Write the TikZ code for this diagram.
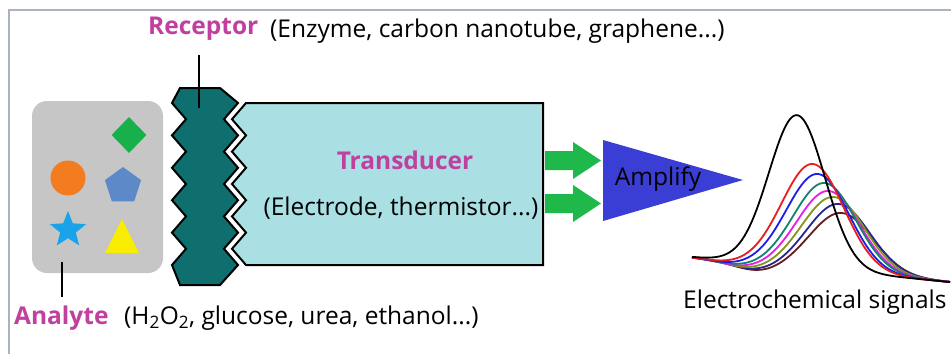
\documentclass[tikz,border=0pt]{standalone}
\usepackage{fontspec}
\setmainfont{Open Sans}
\usetikzlibrary{shapes.geometric}
\definecolor{mag}{RGB}{192,64,160}
\definecolor{framegray}{RGB}{170,180,190}
\definecolor{boxgray}{RGB}{198,198,198}
\definecolor{dgreen}{RGB}{23,176,74}
\definecolor{orng}{RGB}{244,124,32}
\definecolor{pent}{RGB}{92,138,200}
\definecolor{starb}{RGB}{26,163,232}
\definecolor{yel}{RGB}{248,236,0}
\definecolor{teal2}{RGB}{15,110,110}
\definecolor{cyanfill}{RGB}{170,224,228}
\definecolor{arrgreen}{RGB}{30,185,74}
\definecolor{ampblue}{RGB}{58,62,212}
\definecolor{cred}{RGB}{230,30,30}
\definecolor{cblue}{RGB}{30,30,230}
\definecolor{cteal}{RGB}{20,130,110}
\definecolor{cmag}{RGB}{230,30,230}
\definecolor{colive}{RGB}{130,150,30}
\definecolor{cnavy}{RGB}{40,40,140}
\definecolor{cmaroon}{RGB}{100,30,30}
\begin{document}
\begin{tikzpicture}[x=1pt,y=-1pt,
  lbl/.style={font=\fontsize{24.5}{28}\selectfont\bfseries, text=mag, inner sep=0},
  txt/.style={font=\fontsize{24.5}{28}\selectfont, text=black, inner sep=0},
  conn/.style={line width=2.2pt, black},
  outl/.style={line width=2pt, draw=black, line join=miter},
  curve/.style={line width=1.8pt},
  declare function={bs(\t)=257+25*(\t-692)/258; g(\t,\m,\s)=exp(-0.5*((\t-\m)/\s)*((\t-\m)/\s));}
]
\useasboundingbox (0,0) rectangle (951,354);
\fill[white] (0,0) rectangle (951,354);
\draw[framegray, line width=2pt] (9,354) -- (9,10) -- (951,10);

% analyte box
\fill[boxgray, rounded corners=15pt] (32,101) rectangle (163,273);
\coordinate (anabot) at (62,262);
\node[diamond, fill=dgreen, minimum width=35pt, minimum height=36pt, inner sep=0] (dia) at (129,135) {};
\node[circle, fill=orng, minimum size=35pt, inner sep=0] (circ) at (68,178) {};
\node[regular polygon, regular polygon sides=5, fill=pent, minimum size=38pt, inner sep=0] (pen) at (123,186) {};
\node[star, star points=5, star point ratio=2.3, fill=starb, minimum size=38pt, inner sep=0] (st) at (68,230) {};
\fill[yel] (122,219) -- (139,253) -- (105,253) -- cycle;

% receptor
\path[fill=teal2, outl] (180,88) -- (220,88)
  -- (238,103) -- (224,119.2) -- (238,135.4) -- (224,151.6) -- (238,167.8) -- (224,184)
  -- (238,200.2) -- (224,216.4) -- (238,232.6) -- (224,248.8) -- (238,265)
  -- (220,285) -- (180,285)
  -- (172,265) -- (186,248.8) -- (172,232.6) -- (186,216.4) -- (172,200.2) -- (186,184)
  -- (172,167.8) -- (186,151.6) -- (172,135.4) -- (186,119.2) -- (172,103) -- cycle;
\coordinate (rectop) at (199,108);

% transducer
\path[fill=cyanfill, outl] (246,103) -- (543,103) -- (543,265) -- (246,265)
  -- (232,248.8) -- (246,232.6) -- (232,216.4) -- (246,200.2) -- (232,184)
  -- (246,167.8) -- (232,151.6) -- (246,135.4) -- (232,119.2) -- cycle;
\node[lbl] (trans) at (405,160) {Transducer};
\node[txt] (transtxt) at (401,208) {(Electrode, thermistor...)};

% green arrows
\fill[arrgreen] (545,151) -- (573,151) -- (573,142) -- (601,160.5) -- (573,179) -- (573,170) -- (545,170) -- cycle;
\fill[arrgreen] (545,194) -- (573,194) -- (573,185) -- (601,203.5) -- (573,222) -- (573,213) -- (545,213) -- cycle;

% amplifier
\fill[ampblue] (603,140) -- (743,180) -- (603,221) -- cycle;
\node[txt] (amp) at (658,179) {Amplify};

% labels
\node[lbl, anchor=west] (rec) at (148,29) {Receptor};
\node[txt, anchor=west] (rectxt) at (270,31) {(Enzyme, carbon nanotube, graphene...)};
\coordinate (recline) at (199,55);
\draw[conn] (recline) -- (rectop);
\node[lbl, anchor=west] (ana) at (14,318) {Analyte};
\node[txt, anchor=west] (anatxt) at (124,318) {(H\textsubscript{2}O\textsubscript{2}, glucose, urea, ethanol...)};
\coordinate (analine) at (62,297);
\draw[conn] (anabot) -- (analine);

% signals
\foreach \c/\m/\p/\d in {cmaroon/842/213/8, cnavy/839/204/7, colive/834/197/6, cmag/829/191/5, cteal/825/183/4, cblue/818/174/3, cred/813/164/2}{
  \pgfmathsetmacro\A{bs(\m)-\p}
  \draw[curve, \c] plot[domain=692:950, samples=130, smooth] (\x, {bs(\x) - \A*g(\x,\m,31) + \d*g(\x,\m-84,24)});
}
\draw[curve, black] plot[domain=692:950, samples=130, smooth] (\x, {bs(\x) - 152*g(\x,797,28)});
\node[txt, anchor=west] (sig) at (683,302) {Electrochemical signals};
\end{tikzpicture}
\end{document}
